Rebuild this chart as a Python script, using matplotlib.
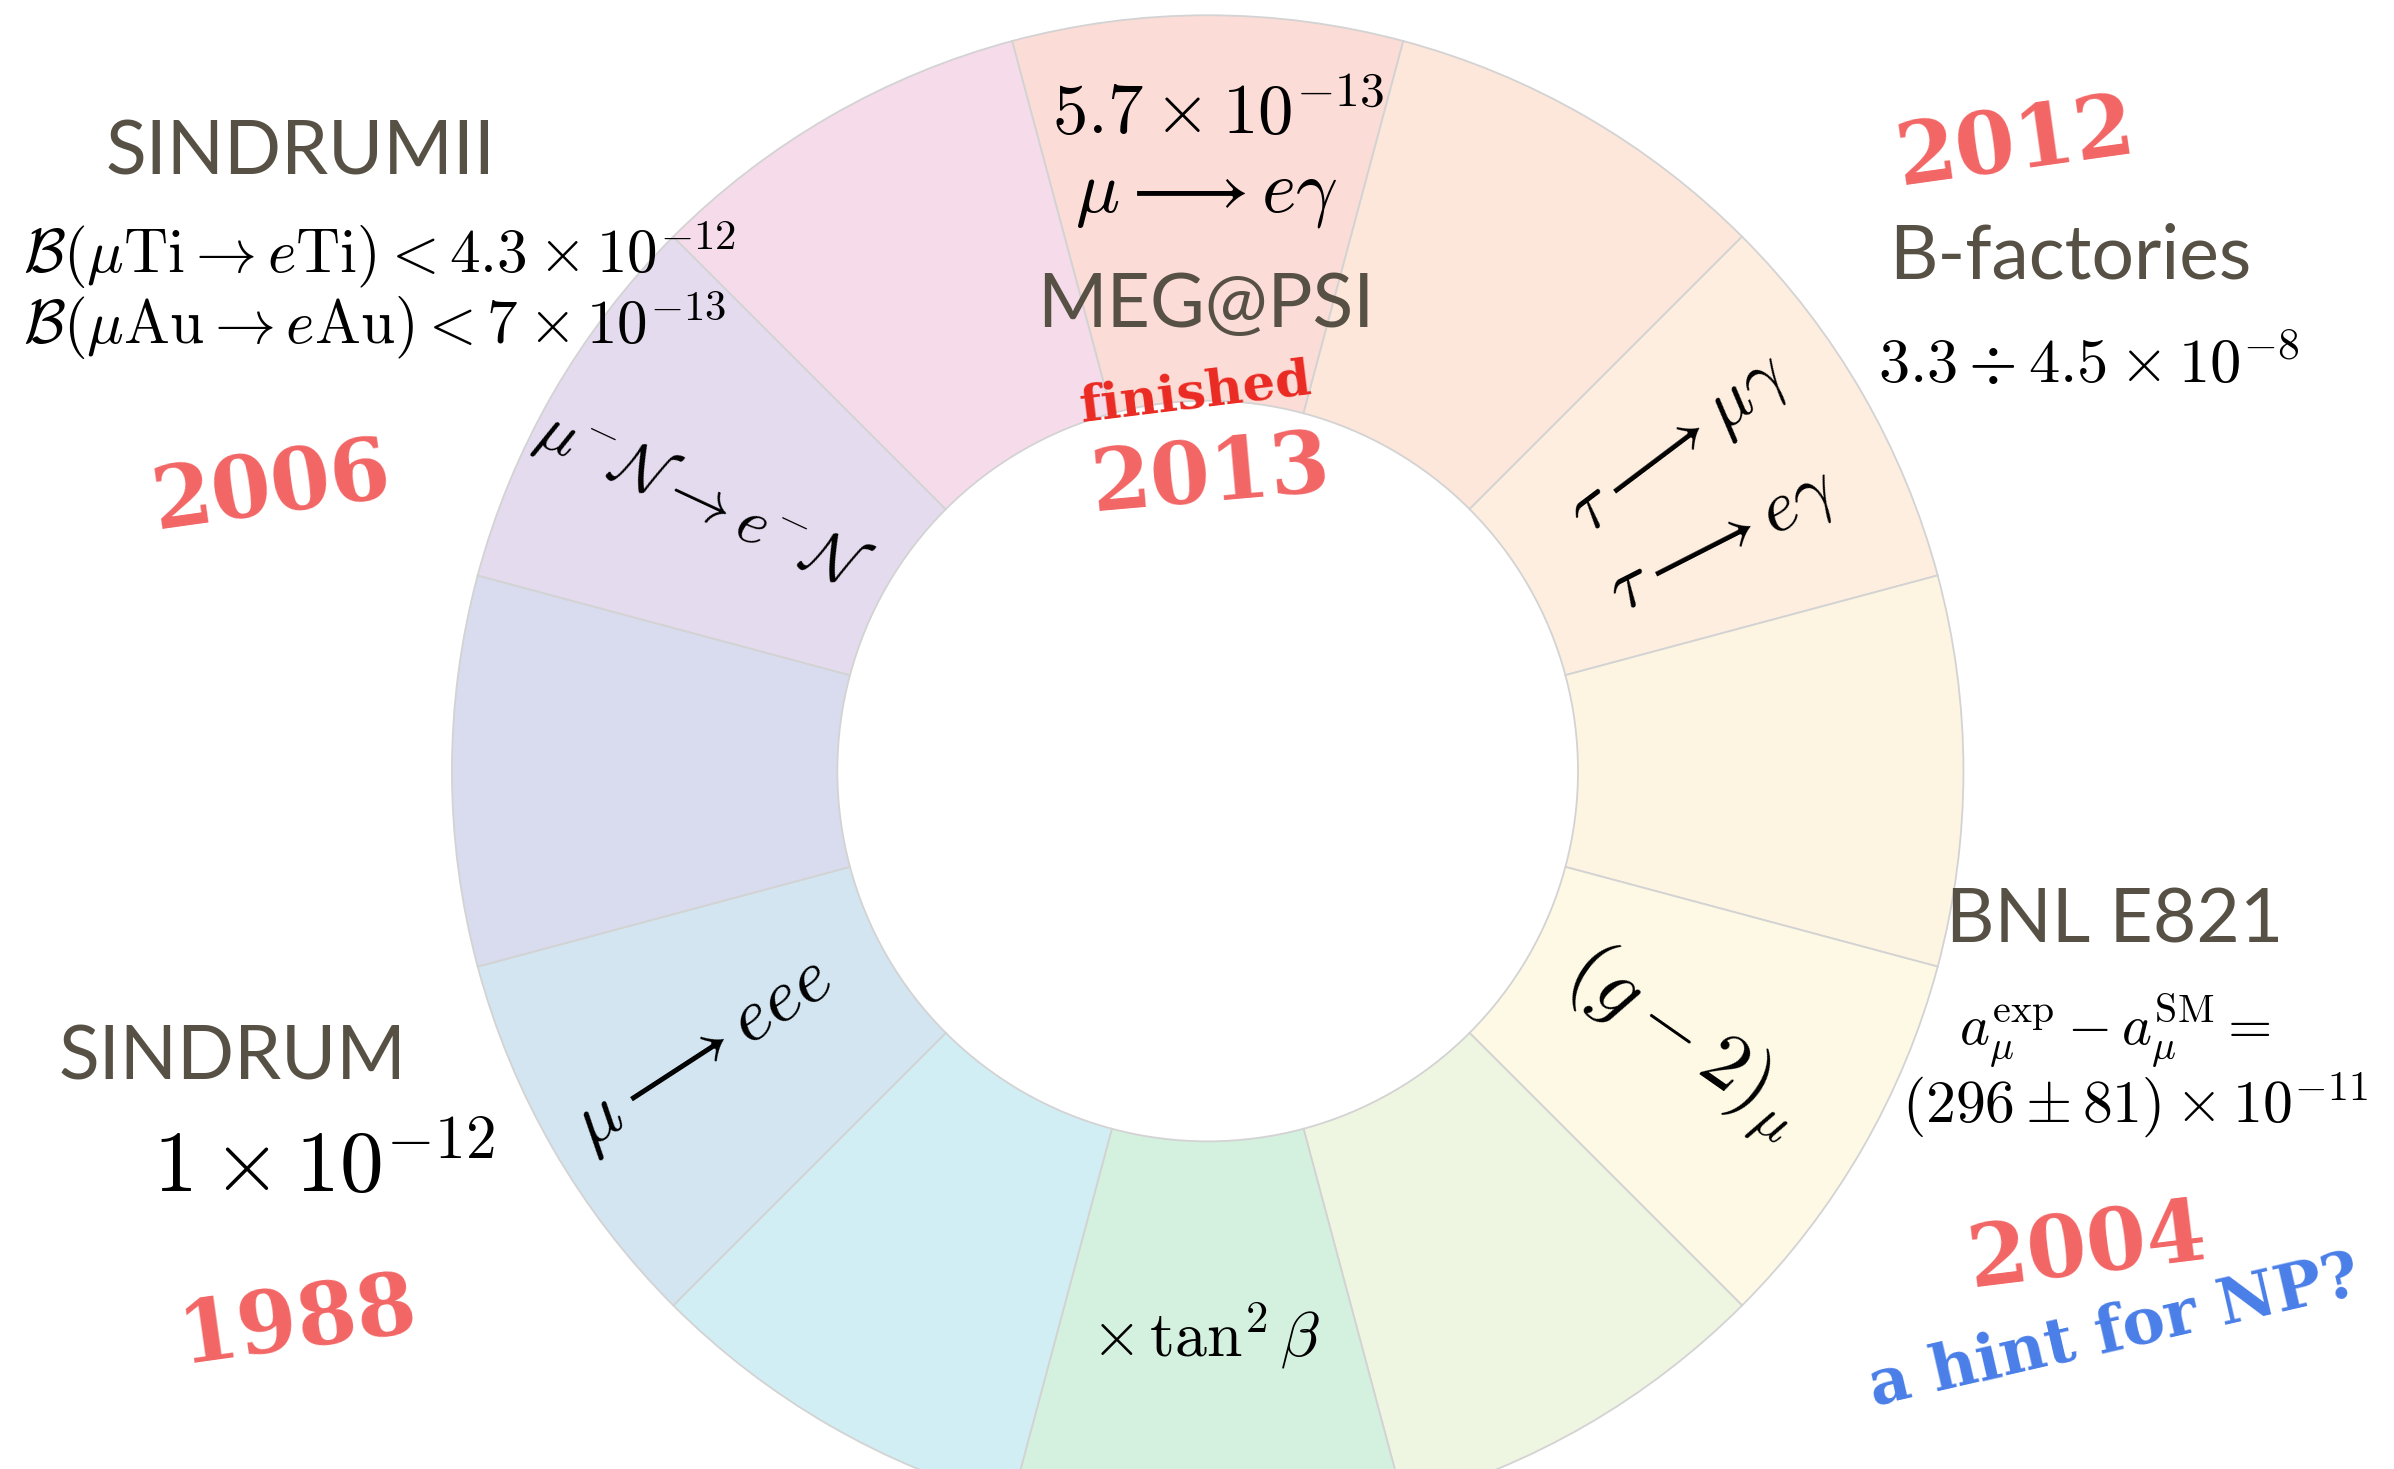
import matplotlib
matplotlib.use("Agg")
import matplotlib.pyplot as plt

W, H = 2394, 1469
S = W / 1568.0  # shrunk-reference -> full pixel scale

# ---- data -------------------------------------------------------------
seg_values = [1] * 12
seg_colors = ["#fcdcd6", "#fde6da", "#fdeee0", "#fdf5e2", "#fdf9e5", "#eef5e1",
              "#d4f0df", "#d1eef4", "#d2e5f1", "#d8dcee", "#e5dbee", "#f6dcea"]

experiments = ["SINDRUMII", "MEG@PSI", "B-factories", "BNL E821", "SINDRUM"]
years = ["2006", "2013", "2012", "1988", "2004"]
limits = [r"$\mathcal{B}(\mu\mathrm{Ti} \rightarrow e\mathrm{Ti}) < 4.3 \times 10^{-12}$",
          r"$\mathcal{B}(\mu\mathrm{Au} \rightarrow e\mathrm{Au}) < 7 \times 10^{-13}$",
          r"$5.7 \times 10^{-13}$",
          r"$3.3 \div 4.5 \times 10^{-8}$",
          r"$a_\mu^{\rm exp} - a_\mu^{\rm SM} =$",
          r"$(296 \pm 81) \times 10^{-11}$",
          r"$1 \times 10^{-12}$"]
processes = [r"$\mu \longrightarrow e\gamma$",
             r"$\tau \longrightarrow \mu\gamma$",
             r"$\tau \longrightarrow e\gamma$",
             r"$(g-2)_\mu$",
             r"$\times\,\tan^2\beta$",
             r"$\mu \longrightarrow eee$",
             r"$\mu^{-}\mathcal{N} \rightarrow e^{-}\mathcal{N}$"]
notes = ["finished", "a hint for NP?"]

plt.rcParams["mathtext.fontset"] = "cm"

fig = plt.figure(figsize=(W / 100, H / 100), dpi=100)
ax = fig.add_axes([0, 0, 1, 1])

cx, cy, R = 791 * S, H - 505 * S, 495 * S
ax.pie(seg_values, colors=seg_colors, startangle=105, counterclock=False,
       center=(cx, cy), radius=R,
       wedgeprops=dict(width=R * 0.51, edgecolor="#d3d3d3", linewidth=1.3))
ax.set_xlim(0, W)
ax.set_ylim(0, H)
ax.set_aspect("auto")
ax.axis("off")


def P(x, y):
    return x * S, H - y * S


SANS = dict(family=["Lato", "DejaVu Sans"], color="#575145", ha="center", va="center",
            fontweight="normal")
MATH = dict(color="black", ha="center", va="center", rotation_mode="anchor")
STAMP = dict(family=["DejaVu Serif"], fontweight="bold", color="#f04a4a", alpha=0.85,
             ha="center", va="center", rotation_mode="anchor")

# experiment names
for name, (x, y) in zip(experiments, [(197, 100), (790, 200), (1356, 168), (1385, 603), (152, 693)]):
    ax.text(*P(x, y), name, fontsize=54, **SANS)

# years (stamps)
for yr, (x, y), rot in zip(years, [(178, 320), (793, 312), (1320, 95), (195, 866), (1367, 818)],
                           [8, 5, 8, 8, 7]):
    ax.text(*P(x, y), yr, fontsize=62, rotation=rot, **STAMP)

ax.text(*P(783, 258), notes[0], fontsize=37, rotation=7, family=["DejaVu Serif"],
        fontweight="bold", color="#ea2a22", ha="center", va="center", rotation_mode="anchor")
ax.text(*P(1385, 873), notes[1], fontsize=46, rotation=13, family=["DejaVu Serif"],
        fontweight="bold", color="#4a7ee8", ha="center", va="center", rotation_mode="anchor")

# limits
ax.text(*P(15, 167), limits[0], fontsize=44, color="black", ha="left", va="center")
ax.text(*P(15, 213), limits[1], fontsize=44, color="black", ha="left", va="center")
ax.text(*P(798, 75), limits[2], fontsize=51, **MATH)
ax.text(*P(1368, 240), limits[3], fontsize=45, **MATH)
ax.text(*P(1385, 675), limits[4], fontsize=41, **MATH)
ax.text(*P(1398, 724), limits[5], fontsize=43, **MATH)
ax.text(*P(212, 765), limits[6], fontsize=63, **MATH)

# processes inside the ring
for txt, (x, y), rot, fs in zip(processes,
                               [(790, 127), (1100, 292), (1128, 355), (1103, 683),
                                (790, 875), (460, 690), (460, 328)],
                               [0, 37, 27, -35, 0, 33, -25],
                               [53, 52, 52, 58, 46, 54, 46]):
    ax.text(*P(x, y), txt, fontsize=fs, rotation=rot, **MATH)

fig.savefig("out.png", dpi=100, facecolor="white")
